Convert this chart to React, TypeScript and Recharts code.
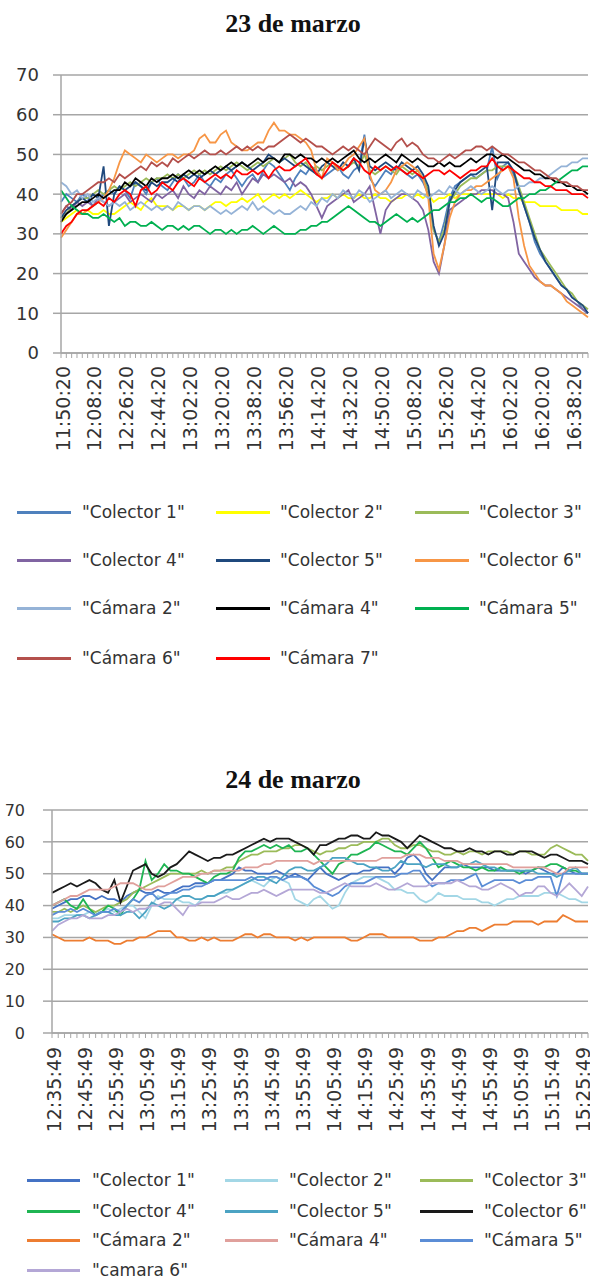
import React from 'react';
import { LineChart, Line, XAxis, YAxis, CartesianGrid } from 'recharts';

// ---------- 23 de marzo (3-minute samples) ----------
const times23 = [
  '11:50:20', '11:53:20', '11:56:20', '11:59:20', '12:02:20', '12:05:20', '12:08:20', '12:11:20', '12:14:20', '12:17:20',
  '12:20:20', '12:23:20', '12:26:20', '12:29:20', '12:32:20', '12:35:20', '12:38:20', '12:41:20', '12:44:20', '12:47:20',
  '12:50:20', '12:53:20', '12:56:20', '12:59:20', '13:02:20', '13:05:20', '13:08:20', '13:11:20', '13:14:20', '13:17:20',
  '13:20:20', '13:23:20', '13:26:20', '13:29:20', '13:32:20', '13:35:20', '13:38:20', '13:41:20', '13:44:20', '13:47:20',
  '13:50:20', '13:53:20', '13:56:20', '13:59:20', '14:02:20', '14:05:20', '14:08:20', '14:11:20', '14:14:20', '14:17:20',
  '14:20:20', '14:23:20', '14:26:20', '14:29:20', '14:32:20', '14:35:20', '14:38:20', '14:41:20', '14:44:20', '14:47:20',
  '14:50:20', '14:53:20', '14:56:20', '14:59:20', '15:02:20', '15:05:20', '15:08:20', '15:11:20', '15:14:20', '15:17:20',
  '15:20:20', '15:23:20', '15:26:20', '15:29:20', '15:32:20', '15:35:20', '15:38:20', '15:41:20', '15:44:20', '15:47:20',
  '15:50:20', '15:53:20', '15:56:20', '15:59:20', '16:02:20', '16:05:20', '16:08:20', '16:11:20', '16:14:20', '16:17:20',
  '16:20:20', '16:23:20', '16:26:20', '16:29:20', '16:32:20', '16:35:20', '16:38:20', '16:41:20', '16:44:20', '16:47:20',
];

const ticks23 = [
  '11:50:20', '12:08:20', '12:26:20', '12:44:20', '13:02:20', '13:20:20', '13:38:20', '13:56:20', '14:14:20',
  '14:32:20', '14:50:20', '15:08:20', '15:26:20', '15:44:20', '16:02:20', '16:20:20', '16:38:20',
];

const colector1_23 = [
  38, 40, 39, 38, 40, 39, 37, 38, 40, 41,
  40, 42, 41, 39, 43, 42, 40, 43, 44, 42,
  41, 43, 45, 44, 42, 43, 45, 43, 42, 44,
  43, 45, 46, 44, 42, 44, 45, 43, 46, 48,
  47, 45, 43, 41, 44, 46, 45, 47, 46, 44,
  45, 46, 47, 45, 44, 46, 47, 55, 44, 42,
  44, 46, 45, 47, 46, 45, 44, 45, 43, 40,
  31, 28, 33, 39, 42, 43, 44, 45, 44, 45,
  46, 52, 44, 47, 48, 45, 41, 37, 33, 28,
  25, 23, 21, 19, 17, 16, 14, 13, 11, 10,
];
const colector2_23 = [
  33, 34, 35, 36, 35, 36, 35, 35, 36, 35,
  35, 36, 37, 38, 37, 36, 38, 39, 37, 37,
  37, 36, 37, 37, 36, 37, 37, 36, 37, 38,
  38, 37, 38, 38, 39, 38, 39, 40, 38, 39,
  40, 39, 40, 39, 40, 41, 40, 39, 38, 39,
  39, 40, 39, 40, 39, 39, 40, 39, 39, 40,
  39, 39, 38, 39, 39, 40, 39, 40, 39, 40,
  38, 39, 39, 40, 39, 40, 40, 40, 40, 40,
  40, 40, 40, 39, 40, 39, 39, 38, 38, 38,
  37, 37, 37, 37, 36, 36, 36, 36, 35, 35,
];
const colector3_23 = [
  34, 35, 37, 38, 39, 39, 40, 41, 40, 41,
  42, 41, 42, 43, 42, 43, 44, 43, 44, 44,
  45, 44, 45, 44, 45, 46, 45, 46, 45, 46,
  47, 46, 47, 48, 47, 46, 47, 48, 47, 48,
  49, 48, 49, 50, 48, 47, 48, 46, 47, 46,
  47, 48, 47, 46, 47, 48, 47, 50, 46, 45,
  46, 47, 46, 45, 47, 46, 45, 46, 44, 41,
  31, 28, 31, 38, 40, 42, 43, 44, 44, 45,
  46, 46, 47, 47, 47, 46, 42, 38, 34, 30,
  26, 24, 22, 20, 18, 16, 15, 13, 12, 11,
];
const colector4_23 = [
  35, 37, 36, 38, 37, 38, 37, 39, 38, 37,
  38, 39, 40, 38, 39, 40, 39, 38, 40, 39,
  40, 41, 39, 42, 40, 39, 41, 40, 42, 41,
  40, 42, 41, 43, 40, 42, 44, 43, 45, 44,
  45, 44, 43, 44, 42, 43, 42, 40, 37, 34,
  37, 38, 39, 40, 41, 38, 39, 40, 42, 36,
  30, 36, 38, 39, 40, 40, 39, 38, 36, 31,
  23, 20, 27, 36, 37, 38, 39, 40, 40, 41,
  41, 41, 40, 40, 39, 33, 25, 23, 21, 19,
  18, 17, 17, 16, 15, 14, 13, 12, 11, 10,
];
const colector5_23 = [
  34, 36, 37, 38, 39, 38, 40, 39, 47, 32,
  40, 42, 41, 42, 43, 42, 41, 43, 42, 43,
  43, 44, 43, 45, 44, 45, 44, 45, 46, 45,
  46, 47, 46, 47, 48, 47, 46, 47, 48, 50,
  49, 48, 49, 48, 47, 48, 47, 46, 45, 47,
  48, 47, 46, 48, 47, 49, 46, 54, 47, 46,
  47, 48, 47, 46, 48, 47, 46, 47, 45, 42,
  32, 27, 30, 38, 41, 43, 44, 45, 45, 46,
  47, 36, 48, 48, 48, 46, 41, 37, 33, 29,
  26, 23, 21, 19, 17, 16, 14, 13, 12, 10,
];
const colector6_23 = [
  29, 31, 33, 35, 35, 36, 37, 38, 39, 41,
  44, 48, 51, 50, 49, 48, 50, 49, 48, 49,
  50, 50, 49, 50, 50, 51, 54, 55, 53, 53,
  55, 56, 53, 52, 51, 51, 52, 53, 53, 56,
  58, 56, 56, 55, 55, 54, 53, 51, 46, 44,
  49, 48, 46, 47, 49, 50, 52, 54, 45, 41,
  40, 41, 43, 46, 47, 48, 47, 46, 44, 39,
  25, 21, 27, 34, 38, 40, 41, 41, 42, 42,
  43, 44, 45, 46, 47, 44, 34, 27, 22, 20,
  18, 17, 17, 16, 15, 13, 12, 11, 10, 9,
];
const camara2_23 = [
  43, 42, 40, 41, 39, 40, 38, 39, 38, 37,
  38, 37, 38, 36, 37, 38, 37, 36, 37, 36,
  37, 36, 38, 37, 36, 37, 37, 36, 37, 36,
  35, 36, 35, 36, 37, 36, 38, 36, 37, 36,
  35, 36, 35, 35, 36, 37, 36, 38, 37, 39,
  38, 40, 39, 41, 40, 39, 41, 40, 38, 39,
  40, 41, 39, 40, 41, 40, 39, 41, 40, 39,
  40, 41, 40, 42, 41, 40, 41, 42, 41, 40,
  41, 42, 41, 40, 41, 41, 42, 42, 43, 43,
  44, 44, 45, 46, 47, 47, 48, 48, 49, 49,
];
const camara4_23 = [
  33, 35, 36, 37, 38, 38, 39, 40, 39, 40,
  41, 41, 43, 42, 44, 43, 42, 44, 43, 44,
  44, 45, 44, 45, 46, 45, 46, 45, 46, 47,
  46, 47, 48, 47, 48, 47, 48, 49, 48, 49,
  49, 48, 50, 50, 49, 50, 49, 49, 48, 49,
  48, 49, 48, 49, 50, 51, 49, 48, 49, 48,
  49, 50, 49, 48, 50, 49, 48, 49, 48, 47,
  47, 48, 47, 48, 47, 47, 48, 49, 48, 49,
  50, 50, 49, 50, 49, 48, 47, 46, 46, 45,
  45, 44, 44, 43, 43, 42, 42, 41, 41, 40,
];
const camara5_23 = [
  41, 39, 37, 36, 35, 35, 34, 34, 35, 34,
  33, 34, 32, 33, 33, 32, 32, 33, 32, 31,
  32, 32, 31, 32, 31, 32, 32, 31, 30, 31,
  31, 30, 31, 30, 31, 31, 32, 31, 30, 31,
  32, 31, 30, 30, 30, 31, 31, 32, 32, 33,
  33, 34, 35, 36, 37, 36, 35, 34, 33, 33,
  32, 33, 34, 35, 34, 33, 34, 33, 34, 35,
  36, 36, 37, 38, 38, 39, 39, 40, 39, 38,
  39, 39, 38, 37, 37, 38, 39, 39, 40, 40,
  41, 41, 42, 43, 44, 45, 46, 46, 47, 47,
];
const camara6_23 = [
  35, 37, 38, 40, 40, 41, 42, 43, 43, 44,
  43, 45, 44, 45, 46, 47, 46, 48, 47, 48,
  47, 49, 48, 49, 50, 49, 50, 51, 50, 50,
  51, 50, 51, 52, 51, 52, 51, 52, 51, 52,
  52, 53, 54, 55, 54, 53, 54, 53, 52, 52,
  51, 50, 51, 52, 51, 52, 51, 50, 52, 54,
  53, 52, 51, 53, 54, 52, 53, 52, 50, 49,
  49, 48, 49, 50, 49, 50, 51, 51, 52, 52,
  51, 52, 51, 50, 50, 49, 48, 48, 47, 46,
  46, 45, 44, 44, 43, 43, 42, 42, 41, 41,
];
const camara7_23 = [
  30, 32, 33, 35, 36, 36, 37, 38, 37, 39,
  38, 40, 41, 40, 37, 41, 42, 40, 41, 43,
  42, 41, 43, 44, 43, 42, 44, 43, 44, 45,
  44, 45, 44, 46, 45, 45, 46, 45, 46, 44,
  46, 47, 46, 46, 47, 48, 49, 47, 45, 44,
  46, 48, 47, 46, 47, 49, 48, 46, 45, 47,
  46, 47, 46, 47, 46, 45, 46, 45, 44, 45,
  46, 46, 45, 46, 45, 44, 45, 46, 46, 47,
  47, 49, 47, 46, 47, 46, 45, 44, 44, 43,
  43, 42, 42, 41, 41, 41, 40, 40, 40, 39,
];

// ---------- 24 de marzo (2-minute samples) ----------
const times24 = [
  '12:35:49', '12:37:49', '12:39:49', '12:41:49', '12:43:49', '12:45:49', '12:47:49', '12:49:49', '12:51:49', '12:53:49',
  '12:55:49', '12:57:49', '12:59:49', '13:01:49', '13:03:49', '13:05:49', '13:07:49', '13:09:49', '13:11:49', '13:13:49',
  '13:15:49', '13:17:49', '13:19:49', '13:21:49', '13:23:49', '13:25:49', '13:27:49', '13:29:49', '13:31:49', '13:33:49',
  '13:35:49', '13:37:49', '13:39:49', '13:41:49', '13:43:49', '13:45:49', '13:47:49', '13:49:49', '13:51:49', '13:53:49',
  '13:55:49', '13:57:49', '13:59:49', '14:01:49', '14:03:49', '14:05:49', '14:07:49', '14:09:49', '14:11:49', '14:13:49',
  '14:15:49', '14:17:49', '14:19:49', '14:21:49', '14:23:49', '14:25:49', '14:27:49', '14:29:49', '14:31:49', '14:33:49',
  '14:35:49', '14:37:49', '14:39:49', '14:41:49', '14:43:49', '14:45:49', '14:47:49', '14:49:49', '14:51:49', '14:53:49',
  '14:55:49', '14:57:49', '14:59:49', '15:01:49', '15:03:49', '15:05:49', '15:07:49', '15:09:49', '15:11:49', '15:13:49',
  '15:15:49', '15:17:49', '15:19:49', '15:21:49', '15:23:49', '15:25:49', '15:27:49',
];

const ticks24 = [
  '12:35:49', '12:45:49', '12:55:49', '13:05:49', '13:15:49', '13:25:49', '13:35:49', '13:45:49', '13:55:49',
  '14:05:49', '14:15:49', '14:25:49', '14:35:49', '14:45:49', '14:55:49', '15:05:49', '15:15:49', '15:25:49',
];

const colector1_24 = [
  39, 40, 41, 42, 42, 43, 43, 42, 43, 42,
  42, 41, 43, 44, 45, 44, 44, 45, 44, 44,
  45, 46, 46, 47, 47, 47, 48, 48, 49, 50,
  52, 51, 51, 50, 50, 50, 51, 50, 49, 50,
  49, 48, 50, 52, 50, 49, 48, 49, 50, 50,
  51, 51, 52, 52, 52, 50, 52, 55, 56, 54,
  50, 48, 50, 52, 52, 52, 53, 52, 52, 52,
  52, 51, 51, 51, 51, 51, 50, 51, 52, 51,
  50, 50, 52, 51, 50, 50, 50,
];
const colector2_24 = [
  36, 36, 37, 37, 37, 37, 38, 38, 38, 39,
  38, 39, 40, 40, 38, 36, 40, 43, 42, 42,
  42, 41, 41, 40, 42, 43, 43, 44, 44, 45,
  46, 47, 48, 47, 46, 48, 49, 48, 47, 42,
  41, 40, 42, 43, 41, 39, 40, 44, 47, 48,
  49, 49, 49, 48, 47, 45, 45, 44, 44, 42,
  41, 42, 44, 43, 43, 43, 42, 42, 42, 41,
  41, 40, 41, 42, 42, 43, 43, 43, 43, 44,
  44, 44, 43, 42, 42, 41, 41,
];
const colector3_24 = [
  38, 38, 39, 38, 39, 40, 39, 38, 39, 40,
  40, 41, 42, 44, 45, 46, 47, 48, 49, 50,
  50, 50, 50, 50, 51, 50, 51, 51, 52, 52,
  54, 55, 56, 56, 57, 57, 57, 58, 58, 59,
  59, 58, 57, 56, 57, 57, 58, 58, 59, 59,
  60, 60, 60, 61, 61, 59, 58, 58, 59, 59,
  58, 57, 57, 56, 56, 57, 56, 57, 57, 56,
  57, 57, 57, 57, 56, 57, 57, 56, 56, 56,
  58, 59, 58, 57, 56, 56, 54,
];
const colector4_24 = [
  40, 41, 42, 40, 39, 42, 39, 37, 38, 40,
  39, 37, 40, 42, 45, 54, 48, 50, 53, 51,
  51, 50, 50, 49, 48, 47, 49, 50, 50, 51,
  55, 57, 57, 58, 59, 58, 59, 58, 59, 57,
  57, 58, 56, 54, 52, 50, 53, 54, 56, 56,
  57, 58, 60, 59, 58, 57, 57, 56, 58, 60,
  58, 55, 52, 53, 54, 53, 52, 52, 51, 52,
  51, 51, 52, 51, 51, 50, 51, 51, 52, 52,
  53, 53, 52, 51, 51, 50, 50,
];
const colector5_24 = [
  35, 35, 36, 36, 37, 37, 36, 37, 38, 38,
  37, 37, 38, 38, 36, 38, 41, 40, 39, 40,
  42, 43, 43, 42, 42, 43, 43, 44, 45, 45,
  46, 47, 48, 49, 49, 48, 47, 49, 51, 52,
  52, 51, 51, 52, 53, 55, 55, 55, 54, 53,
  53, 52, 52, 51, 51, 52, 54, 53, 53, 53,
  52, 53, 53, 53, 52, 52, 53, 53, 54, 53,
  52, 52, 51, 51, 51, 51, 51, 51, 50, 50,
  50, 49, 50, 51, 52, 50, 50,
];
const colector6_24 = [
  44, 45, 46, 47, 46, 47, 48, 47, 45, 44,
  48, 41, 46, 51, 52, 53, 50, 49, 50, 52,
  53, 55, 57, 56, 55, 54, 55, 55, 56, 56,
  57, 58, 59, 60, 61, 60, 61, 61, 61, 60,
  59, 58, 56, 59, 59, 60, 61, 61, 62, 62,
  61, 61, 63, 62, 62, 61, 60, 58, 60, 62,
  61, 60, 59, 58, 58, 57, 57, 58, 57, 57,
  56, 57, 57, 56, 56, 57, 57, 57, 56, 55,
  56, 56, 55, 54, 54, 54, 53,
];
const camara2_24 = [
  31, 30, 29, 29, 29, 29, 30, 29, 29, 29,
  28, 28, 29, 29, 30, 30, 31, 32, 32, 32,
  30, 30, 29, 29, 30, 29, 30, 29, 29, 29,
  30, 31, 31, 30, 31, 31, 30, 30, 30, 29,
  30, 29, 30, 30, 30, 30, 30, 30, 29, 29,
  30, 31, 31, 31, 30, 30, 30, 30, 30, 29,
  29, 29, 30, 30, 31, 32, 32, 33, 33, 32,
  33, 34, 34, 34, 35, 35, 35, 35, 34, 35,
  35, 35, 37, 36, 35, 35, 35,
];
const camara4_24 = [
  40, 41, 42, 43, 43, 44, 45, 45, 45, 45,
  46, 47, 47, 47, 46, 45, 45, 46, 46, 47,
  48, 49, 49, 49, 50, 50, 51, 51, 51, 51,
  51, 52, 52, 52, 53, 53, 54, 54, 54, 54,
  54, 54, 53, 54, 54, 54, 54, 54, 54, 54,
  54, 54, 54, 55, 55, 55, 55, 56, 56, 56,
  55, 55, 55, 54, 54, 54, 53, 53, 53, 53,
  53, 53, 53, 53, 52, 52, 52, 52, 52, 52,
  51, 50, 50, 52, 52, 52, 52,
];
const camara5_24 = [
  37, 38, 38, 39, 38, 39, 38, 37, 38, 38,
  39, 38, 40, 42, 41, 43, 44, 42, 43, 44,
  44, 45, 45, 46, 46, 47, 48, 48, 48, 48,
  48, 48, 49, 48, 48, 49, 49, 48, 49, 49,
  49, 48, 46, 45, 44, 43, 44, 46, 47, 47,
  47, 48, 49, 49, 49, 49, 50, 50, 51, 51,
  48, 46, 47, 47, 48, 48, 48, 49, 50, 46,
  47, 48, 48, 48, 48, 47, 48, 48, 49, 49,
  49, 43, 50, 50, 50, 50, 50,
];
const camara6_24 = [
  32, 34, 35, 36, 36, 37, 36, 36, 36, 37,
  37, 38, 39, 38, 39, 39, 40, 40, 41, 41,
  39, 37, 40, 40, 41, 41, 41, 42, 43, 42,
  42, 43, 44, 44, 45, 44, 43, 44, 45, 45,
  45, 45, 45, 44, 44, 45, 46, 47, 46, 46,
  46, 46, 47, 46, 45, 45, 46, 47, 46, 46,
  46, 47, 47, 47, 47, 48, 47, 46, 46, 45,
  45, 46, 47, 46, 45, 43, 44, 44, 46, 46,
  44, 43, 45, 47, 45, 43, 46,
];

type Series = { key: string; name: string; color: string; values: number[] };

const series23: Series[] = [
  { key: 'colector1', name: '"Colector 1"', color: '#4F81BD', values: colector1_23 },
  { key: 'colector2', name: '"Colector 2"', color: '#FFFF00', values: colector2_23 },
  { key: 'colector3', name: '"Colector 3"', color: '#9BBB59', values: colector3_23 },
  { key: 'colector4', name: '"Colector 4"', color: '#8064A2', values: colector4_23 },
  { key: 'colector5', name: '"Colector 5"', color: '#1F497D', values: colector5_23 },
  { key: 'colector6', name: '"Colector 6"', color: '#F79646', values: colector6_23 },
  { key: 'camara2', name: '"Cámara 2"', color: '#95B3D7', values: camara2_23 },
  { key: 'camara4', name: '"Cámara 4"', color: '#000000', values: camara4_23 },
  { key: 'camara5', name: '"Cámara 5"', color: '#00B050', values: camara5_23 },
  { key: 'camara6', name: '"Cámara 6"', color: '#B4504C', values: camara6_23 },
  { key: 'camara7', name: '"Cámara 7"', color: '#FF0000', values: camara7_23 },
];

const series24: Series[] = [
  { key: 'colector1', name: '"Colector 1"', color: '#4472C4', values: colector1_24 },
  { key: 'colector2', name: '"Colector 2"', color: '#A3D7E6', values: colector2_24 },
  { key: 'colector3', name: '"Colector 3"', color: '#9BBB59', values: colector3_24 },
  { key: 'colector4', name: '"Colector 4"', color: '#1FB553', values: colector4_24 },
  { key: 'colector5', name: '"Colector 5"', color: '#4BA3C3', values: colector5_24 },
  { key: 'colector6', name: '"Colector 6"', color: '#1A1A1A', values: colector6_24 },
  { key: 'camara2', name: '"Cámara 2"', color: '#ED7D31', values: camara2_24 },
  { key: 'camara4', name: '"Cámara 4"', color: '#E0A09C', values: camara4_24 },
  { key: 'camara5', name: '"Cámara 5"', color: '#5B8DD6', values: camara5_24 },
  { key: 'camara6', name: '"camara 6"', color: '#B4A7D6', values: camara6_24 },
];

const buildRows = (times: string[], series: Series[]) =>
  times.map((t, i) => {
    const row: Record<string, string | number> = { t };
    series.forEach((s) => {
      row[s.key] = s.values[i];
    });
    return row;
  });

const rows23 = buildRows(times23, series23);
const rows24 = buildRows(times24, series24);

const yTicks = [0, 10, 20, 30, 40, 50, 60, 70];

const SANS = '"DejaVu Sans", Verdana, sans-serif';
const SERIF = '"Liberation Serif", "Times New Roman", serif';
const GRID = '#A6A6A6';
const TEXT = '#333333';

// Rotated time label, drawn only on the labelled categories
const TimeTick = (props: any) => {
  const { x, y, payload, labels, fontSize } = props;
  if (!labels.includes(payload.value)) return null;
  return (
    <text
      x={x}
      y={y}
      transform={`rotate(-90, ${x}, ${y})`}
      textAnchor="end"
      dy="0.45em"
      fill={TEXT}
      fontSize={fontSize}
      fontFamily={SANS}
    >
      {payload.value}
    </text>
  );
};

type LegendLayout = { rows: number[]; lineX: number[]; textX: number[]; lineW: number };

const LegendBlock = ({ series, layout }: { series: Series[]; layout: LegendLayout }) => (
  <>
    {series.map((s, i) => {
      const row = Math.floor(i / 3);
      const col = i % 3;
      const cy = layout.rows[row];
      return (
        <React.Fragment key={s.key}>
          <div
            style={{
              position: 'absolute',
              left: layout.lineX[col],
              top: cy - 1,
              width: layout.lineW,
              height: 2.5,
              background: s.color,
            }}
          />
          <div
            style={{
              position: 'absolute',
              left: layout.textX[col],
              top: cy - 11,
              height: 22,
              lineHeight: '22px',
              fontSize: 17,
              fontFamily: SANS,
              color: TEXT,
              whiteSpace: 'nowrap',
            }}
          >
            {s.name}
          </div>
        </React.Fragment>
      );
    })}
  </>
);

const Title = ({ text, top }: { text: string; top: number }) => (
  <div
    style={{
      position: 'absolute',
      left: 0,
      top,
      width: 586,
      textAlign: 'center',
      fontFamily: SERIF,
      fontWeight: 'bold',
      fontSize: 26,
      lineHeight: '30px',
      color: '#111',
    }}
  >
    {text}
  </div>
);

export default function App() {
  return (
    <div style={{ position: 'absolute', left: 0, top: 0, width: 590, height: 1279, background: '#fff', overflow: 'hidden' }}>
      <Title text="23 de marzo" top={9} />
      <div style={{ position: 'absolute', left: 0, top: 0 }}>
        <LineChart width={590} height={470} data={rows23} margin={{ top: 75, right: 2, bottom: 7, left: 0 }}>
          <CartesianGrid vertical={false} stroke={GRID} strokeWidth={1.5} />
          <XAxis
            dataKey="t"
            interval={0}
            height={110}
            tickSize={5}
            tickMargin={8}
            axisLine={{ stroke: GRID, strokeWidth: 1.5 }}
            tickLine={{ stroke: GRID }}
            tick={(p: any) => <TimeTick {...p} labels={ticks23} fontSize={19} />}
          />
          <YAxis
            width={61}
            domain={[0, 70]}
            ticks={yTicks}
            interval={0}
            tickSize={8}
            tickMargin={14}
            axisLine={{ stroke: GRID, strokeWidth: 1.5 }}
            tickLine={{ stroke: GRID, strokeWidth: 1.5 }}
            tick={{ fill: TEXT, fontSize: 18, fontFamily: SANS }}
          />
          {series23.map((s) => (
            <Line
              key={s.key}
              type="linear"
              dataKey={s.key}
              name={s.name}
              stroke={s.color}
              strokeWidth={1.8}
              dot={false}
              isAnimationActive={false}
            />
          ))}
        </LineChart>
      </div>
      <LegendBlock
        series={series23}
        layout={{ rows: [512, 560, 608, 658], lineX: [17, 216, 415], textX: [82, 280, 479], lineW: 54 }}
      />

      <Title text="24 de marzo" top={765} />
      <div style={{ position: 'absolute', left: 0, top: 760 }}>
        <LineChart width={590} height={380} data={rows24} margin={{ top: 50, right: 2, bottom: 7, left: 0 }}>
          <CartesianGrid vertical={false} stroke={GRID} strokeWidth={1.5} />
          <XAxis
            dataKey="t"
            interval={0}
            height={100}
            tickSize={5}
            tickMargin={9}
            axisLine={{ stroke: GRID, strokeWidth: 1.5 }}
            tickLine={{ stroke: GRID }}
            tick={(p: any) => <TimeTick {...p} labels={ticks24} fontSize={19} />}
          />
          <YAxis
            width={52}
            domain={[0, 70]}
            ticks={yTicks}
            interval={0}
            tickSize={9}
            tickMargin={18}
            axisLine={{ stroke: GRID, strokeWidth: 1.5 }}
            tickLine={{ stroke: GRID, strokeWidth: 1.5 }}
            tick={{ fill: TEXT, fontSize: 16, fontFamily: SANS }}
          />
          {series24.map((s) => (
            <Line
              key={s.key}
              type="linear"
              dataKey={s.key}
              name={s.name}
              stroke={s.color}
              strokeWidth={1.8}
              dot={false}
              isAnimationActive={false}
            />
          ))}
        </LineChart>
      </div>
      <LegendBlock
        series={series24}
        layout={{ rows: [1180, 1211, 1240, 1270], lineX: [27, 225, 420], textX: [92, 289, 484], lineW: 53 }}
      />
    </div>
  );
}
